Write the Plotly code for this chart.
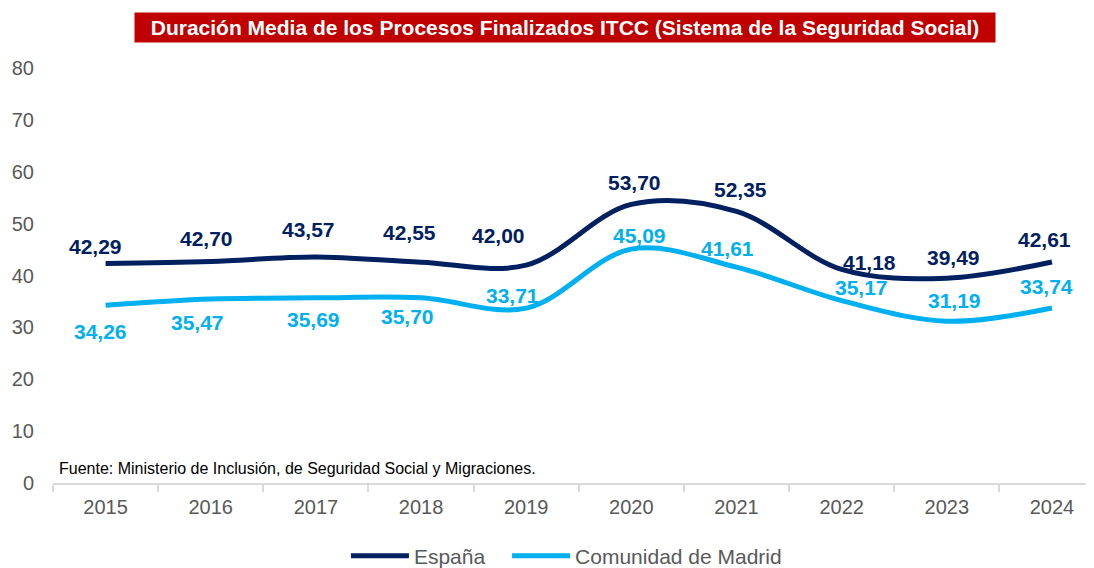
import plotly.graph_objects as go

years = ["2015", "2016", "2017", "2018", "2019", "2020", "2021", "2022", "2023", "2024"]
espana = [42.29, 42.70, 43.57, 42.55, 42.00, 53.70, 52.35, 41.18, 39.49, 42.61]
madrid = [34.26, 35.47, 35.69, 35.70, 33.71, 45.09, 41.61, 35.17, 31.19, 33.74]
y_ticks = [0, 10, 20, 30, 40, 50, 60, 70, 80]

title_text = "Duración Media de los Procesos Finalizados ITCC (Sistema de la Seguridad Social)"
source_text = "Fuente: Ministerio de Inclusión, de Seguridad Social y Migraciones."

C_ES = "#002060"
C_MD = "#00B0F0"
FONT = "Arial, Liberation Sans, sans-serif"

# label offsets (pixels) for each point: (xshift, yshift)
es_off = [(-10, 17), (-4, 23), (-7, 27), (-12, 30), (-28, 30), (3, 22), (4, 22), (28, 7), (7, 21), (-7, 22)]
md_off = [(-5, -26), (-13, -23), (-2, -22), (-14, -19), (-14, 13), (8, 14), (-9, 19), (20, 13), (8, 21), (-5, 21)]

def fmt(v):
    return f"{v:.2f}".replace(".", ",")

fig = go.Figure()
fig.add_trace(go.Scatter(x=years, y=espana, mode="lines", name="España", legend="legend",
                         line=dict(color=C_ES, width=5, shape="spline", smoothing=1.0),
                         hoverinfo="skip"))
fig.add_trace(go.Scatter(x=years, y=madrid, mode="lines", name="Comunidad de Madrid",
                         legend="legend2",
                         line=dict(color=C_MD, width=5, shape="spline", smoothing=1.0),
                         hoverinfo="skip"))

annotations = []
for i, (v, (dx, dy)) in enumerate(zip(espana, es_off)):
    annotations.append(dict(x=i, y=v, xref="x", yref="y", text=fmt(v), showarrow=False,
                            xshift=dx, yshift=dy,
                            font=dict(family=FONT, size=21, color=C_ES, weight="bold")))
for i, (v, (dx, dy)) in enumerate(zip(madrid, md_off)):
    annotations.append(dict(x=i, y=v, xref="x", yref="y", text=fmt(v), showarrow=False,
                            xshift=dx, yshift=dy,
                            font=dict(family=FONT, size=21, color=C_MD, weight="bold")))

annotations.append(dict(x=0.4914, y=1.0964, xref="paper", yref="paper", text=title_text,
                        showarrow=False, bgcolor="#C00000", borderpad=3, width=854,
                        xanchor="center", yanchor="middle",
                        font=dict(family=FONT, size=21, color="white", weight="bold")))
annotations.append(dict(x=0.004, y=0.036, xref="paper", yref="paper", text=source_text,
                        showarrow=False, xanchor="left", yanchor="middle",
                        font=dict(family=FONT, size=16, color="black")))

leg_common = dict(orientation="h", yanchor="middle", y=-0.176, xanchor="left",
                  font=dict(family=FONT, size=21, color="#595959"), itemwidth=58,
                  bgcolor="rgba(0,0,0,0)", borderwidth=0)

# the page body has an 8px default margin, so the figure is sized to fit the window
fig.update_layout(
    width=1086, height=560,
    margin=dict(l=45, r=0, t=60, b=85, autoexpand=False),
    paper_bgcolor="white", plot_bgcolor="white",
    font=dict(family=FONT, size=20, color="#595959"),
    showlegend=True,
    legend=dict(x=0.2814, **leg_common),
    legend2=dict(x=0.4362, **leg_common),
    annotations=annotations,
    xaxis=dict(type="category", range=[-0.5, 9.4], showgrid=False, showline=True,
               linecolor="#D9D9D9", linewidth=2, ticks="outside", tickson="boundaries",
               ticklen=7, tickcolor="#D9D9D9", tickwidth=2, automargin=False,
               tickfont=dict(family=FONT, size=20, color="#595959"),
               ticklabelstandoff=5),
    yaxis=dict(range=[0, 80], tickvals=y_ticks, showgrid=False, showline=False,
               zeroline=False, ticks="", ticklabelstandoff=18, automargin=False,
               tickfont=dict(family=FONT, size=20, color="#595959")),
)

fig.write_html("out.html")
